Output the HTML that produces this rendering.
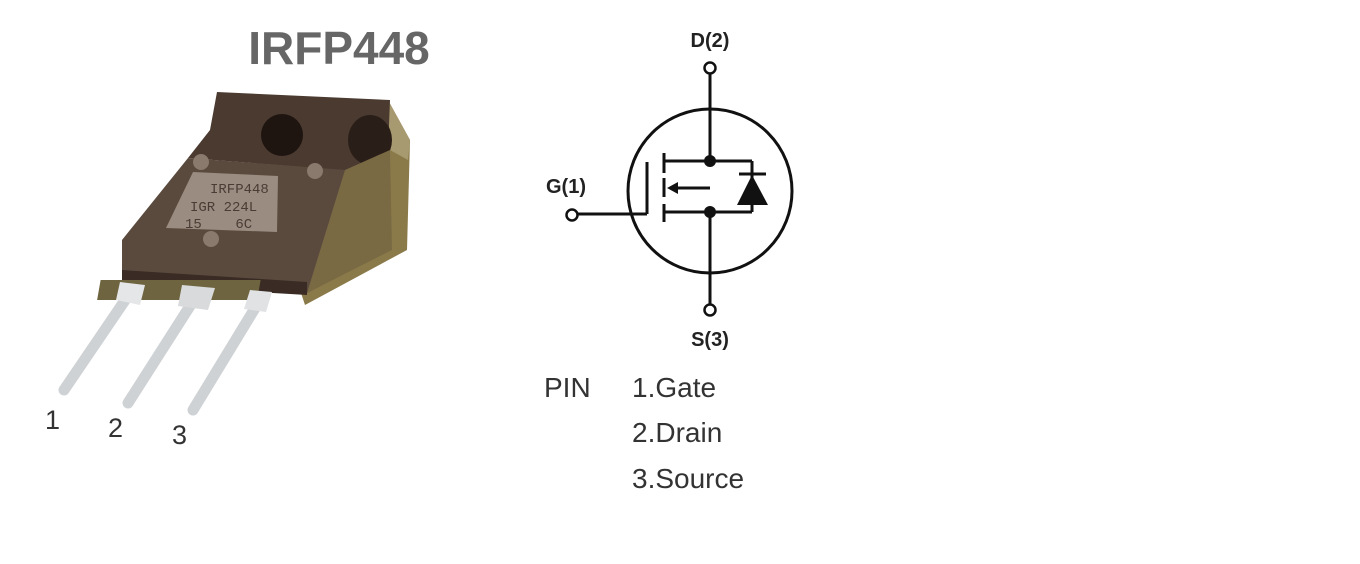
<!DOCTYPE html>
<html><head><meta charset="utf-8"><style>
html,body{margin:0;padding:0;background:#fff;}
svg{display:block;}
</style></head><body>
<svg width="1360" height="564" viewBox="0 0 1360 564" xmlns="http://www.w3.org/2000/svg">
<rect width="1360" height="564" fill="#fff"/>
<text x="339" y="64" text-anchor="middle" font-family="Liberation Sans, sans-serif" font-weight="bold" font-size="46" fill="#666">IRFP448</text>

<!-- right side face -->
<polygon points="388,100 410,140 407,250 305,305 300,290 390,250" fill="#8a7a4a"/>
<polygon points="388,100 410,140 408,160 390,150" fill="#a89a70"/>
<!-- top tab -->
<polygon points="217,92 390,100 388,150 355,172 340,170 188,158 210,130" fill="#4a3a30"/>
<circle cx="282" cy="135" r="21" fill="#1e1410"/>
<ellipse cx="370" cy="140" rx="22" ry="25" fill="#2a1e18"/>
<!-- front body -->
<polygon points="188,158 345,170 390,160 390,250 307,293 122,282 122,240" fill="#5a4a3e"/>
<polygon points="345,170 390,150 392,250 307,293" fill="#7a6a44"/>
<polygon points="122,270 307,282 307,295 122,284" fill="#3a2c24"/>
<circle cx="201" cy="162" r="8" fill="#8a7a6e"/>
<circle cx="315" cy="171" r="8" fill="#8a7a6e"/>
<circle cx="211" cy="239" r="8" fill="#8a7a6e"/>
<!-- label plate -->
<polygon points="193,172 278,176 277,232 166,228" fill="#9a8c80"/>
<text x="210" y="193" font-family="Liberation Mono, monospace" font-size="14" fill="#4a3c34">IRFP448</text>
<text x="190" y="211" font-family="Liberation Mono, monospace" font-size="14" fill="#4a3c34">IGR 224L</text>
<text x="185" y="228" font-family="Liberation Mono, monospace" font-size="14" fill="#4a3c34" xml:space="preserve">15    6C</text>
<!-- lead bases -->
<rect x="150" y="280" width="160" height="20" fill="#6e6440" transform="skewX(-10)"/>
<!-- leads -->
<g stroke="#cfd2d4" stroke-linecap="round">
<line x1="132" y1="290" x2="64" y2="390" stroke-width="11"/>
<line x1="197" y1="295" x2="128" y2="403" stroke-width="11"/>
<line x1="260" y1="300" x2="193" y2="410" stroke-width="11"/>
</g>
<polygon points="120,282 145,285 140,305 116,300" fill="#e4e6e8"/>
<polygon points="182,285 215,288 208,310 178,306" fill="#d8dadc"/>
<polygon points="250,290 272,292 266,312 244,309" fill="#e0e2e4"/>
<g font-family="Liberation Sans, sans-serif" font-size="27" fill="#333">
<text x="45" y="429">1</text>
<text x="108" y="437">2</text>
<text x="172" y="444">3</text>
</g>

<!-- schematic -->
<g stroke="#111" stroke-width="3" fill="none">
<circle cx="710" cy="191" r="82"/>
<line x1="710" y1="73" x2="710" y2="161"/>
<line x1="710" y1="212" x2="710" y2="305"/>
<line x1="664" y1="153" x2="664" y2="173"/>
<line x1="664" y1="178" x2="664" y2="197"/>
<line x1="664" y1="204" x2="664" y2="222"/>
<line x1="647" y1="162" x2="647" y2="214"/>
<line x1="577" y1="214" x2="647" y2="214"/>
<line x1="664" y1="161" x2="752" y2="161"/>
<line x1="664" y1="212" x2="752" y2="212"/>
<line x1="752" y1="161" x2="752" y2="212"/>
<line x1="674" y1="188" x2="710" y2="188"/>
<line x1="739" y1="174" x2="766" y2="174"/>
</g>
<polygon points="667,188 678,182 678,194" fill="#111"/>
<polygon points="737,205 768,205 752,175" fill="#111"/>
<circle cx="710" cy="161" r="6" fill="#111"/>
<circle cx="710" cy="212" r="6" fill="#111"/>
<g stroke="#111" stroke-width="2.5" fill="#fff">
<circle cx="710" cy="68" r="5.5"/>
<circle cx="710" cy="310" r="5.5"/>
<circle cx="572" cy="215" r="5.5"/>
</g>
<g font-family="Liberation Sans, sans-serif" font-weight="bold" font-size="20" fill="#222" text-anchor="middle">
<text x="710" y="47">D(2)</text>
<text x="710" y="346">S(3)</text>
<text x="566" y="193">G(1)</text>
</g>
<g font-family="Liberation Sans, sans-serif" font-size="28" fill="#333">
<text x="544" y="397">PIN</text>
<text x="632" y="397">1.Gate</text>
<text x="632" y="442">2.Drain</text>
<text x="632" y="488">3.Source</text>
</g>
</svg>
</body></html>
